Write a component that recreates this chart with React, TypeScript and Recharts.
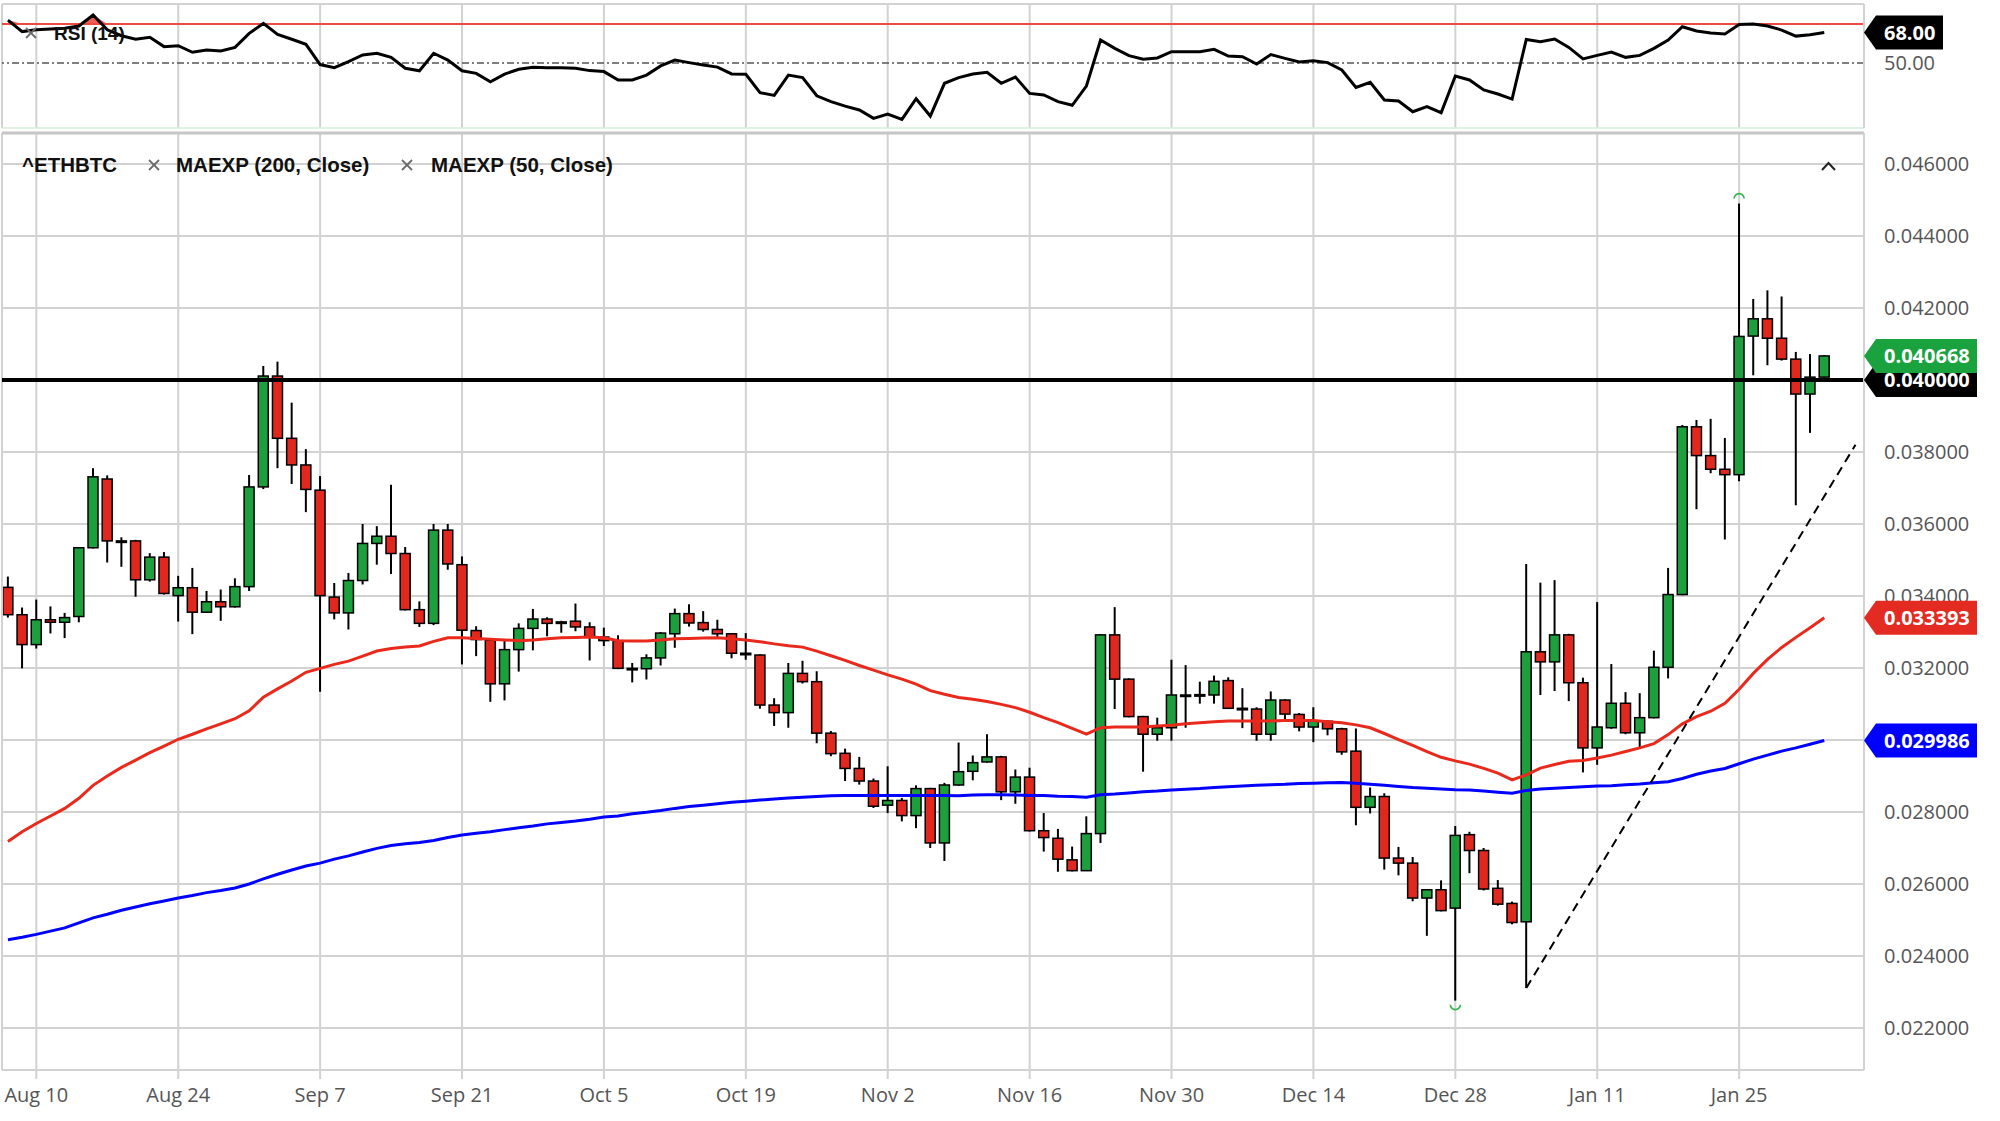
import {
  ComposedChart,
  Bar,
  Line,
  Area,
  XAxis,
  YAxis,
  CartesianGrid,
  ReferenceLine,
  ReferenceDot,
} from 'recharts';

// daily candles, Aug 6 -> Feb 2 (weekdays)
const open = [
  0.03424, 0.03348, 0.03265, 0.03334, 0.03327, 0.03343, 0.03534, 0.03725, 0.03553, 0.03553,
  0.03445, 0.03508, 0.03401, 0.03423, 0.03355, 0.03384, 0.0337, 0.03426, 0.03703, 0.04011,
  0.03838, 0.03764, 0.03694, 0.03397, 0.03353, 0.03443, 0.03546, 0.03566, 0.03518, 0.03362,
  0.03324, 0.03583, 0.03487, 0.03304, 0.03277, 0.03156, 0.03251, 0.0331, 0.03336, 0.03327,
  0.0333, 0.03314, 0.03286, 0.03276, 0.03199, 0.03198, 0.03228, 0.03295, 0.03351, 0.03326,
  0.03307, 0.03295, 0.03241, 0.03236, 0.03097, 0.03076, 0.03185, 0.03162, 0.03019, 0.02963,
  0.02921, 0.02886, 0.02819, 0.02832, 0.0279, 0.02865, 0.02714, 0.02875, 0.02913, 0.02939,
  0.02953, 0.02856, 0.02897, 0.02748, 0.02727, 0.02667, 0.02637, 0.0274, 0.03292, 0.03169,
  0.03065, 0.03016, 0.03034, 0.03125, 0.03124, 0.03125, 0.03165, 0.03088, 0.03086, 0.03016,
  0.03111, 0.03071, 0.03036, 0.03052, 0.03031, 0.02969, 0.02813, 0.02843, 0.02672, 0.02658,
  0.02561, 0.02584, 0.02533, 0.02737, 0.02693, 0.02588, 0.02546, 0.02495, 0.03245, 0.03217,
  0.03292, 0.03159, 0.02978, 0.03034, 0.03102, 0.0302, 0.03062, 0.03202, 0.03404, 0.0387,
  0.0379, 0.03752, 0.03737, 0.04122, 0.0417, 0.04116, 0.04058, 0.03961, 0.04008,
];
const high = [
  0.03454, 0.03368, 0.0339, 0.03371, 0.03353, 0.03536, 0.03755, 0.03735, 0.03563, 0.03556,
  0.03519, 0.03522, 0.03456, 0.03478, 0.03414, 0.03418, 0.03449, 0.03736, 0.04039, 0.04051,
  0.03937, 0.03808, 0.03733, 0.03436, 0.03464, 0.036, 0.03594, 0.03709, 0.03536, 0.03385,
  0.036, 0.036, 0.0351, 0.03316, 0.03279, 0.03277, 0.03324, 0.03364, 0.03341, 0.03331,
  0.03379, 0.03327, 0.03312, 0.03291, 0.03214, 0.03238, 0.033, 0.03365, 0.03377, 0.03358,
  0.03334, 0.03297, 0.03297, 0.03238, 0.03116, 0.03214, 0.0322, 0.03191, 0.03025, 0.02976,
  0.02953, 0.02893, 0.02927, 0.02839, 0.02874, 0.02867, 0.02881, 0.02993, 0.02957, 0.03016,
  0.02956, 0.02918, 0.02923, 0.02797, 0.02753, 0.02704, 0.02788, 0.03294, 0.03369, 0.03171,
  0.03067, 0.03062, 0.03223, 0.03208, 0.03162, 0.03179, 0.03174, 0.03144, 0.03091, 0.03135,
  0.03113, 0.03075, 0.03091, 0.03054, 0.03034, 0.03032, 0.02868, 0.02852, 0.02703, 0.02675,
  0.02586, 0.0261, 0.02761, 0.02745, 0.027, 0.02611, 0.02551, 0.03489, 0.03437, 0.03444,
  0.03295, 0.03173, 0.03383, 0.03211, 0.03133, 0.0313, 0.03248, 0.03478, 0.03875, 0.03889,
  0.03892, 0.03839, 0.0449, 0.04225, 0.04249, 0.04232, 0.04078, 0.04072, 0.04069,
];
const low = [
  0.0334, 0.03199, 0.03254, 0.03296, 0.03283, 0.03327, 0.03532, 0.03493, 0.03481, 0.03398,
  0.0344, 0.03404, 0.03329, 0.03294, 0.03353, 0.03331, 0.03368, 0.03414, 0.03697, 0.03755,
  0.03711, 0.03633, 0.03134, 0.03335, 0.03307, 0.03432, 0.03487, 0.03461, 0.0336, 0.03314,
  0.03319, 0.03473, 0.0321, 0.03233, 0.03106, 0.0311, 0.0319, 0.03249, 0.03288, 0.03298,
  0.03302, 0.03221, 0.03261, 0.03197, 0.0316, 0.03168, 0.03207, 0.03256, 0.03315, 0.03301,
  0.03281, 0.03227, 0.03223, 0.03087, 0.03039, 0.03034, 0.03157, 0.02991, 0.02955, 0.02886,
  0.02876, 0.02811, 0.02797, 0.02774, 0.02755, 0.027, 0.02664, 0.02873, 0.02888, 0.02937,
  0.02833, 0.02823, 0.02746, 0.0269, 0.02634, 0.02635, 0.02636, 0.02714, 0.03086, 0.03063,
  0.02912, 0.02998, 0.02998, 0.03034, 0.03101, 0.03101, 0.03086, 0.03033, 0.02998, 0.02998,
  0.03052, 0.03024, 0.02994, 0.03013, 0.02959, 0.02763, 0.02796, 0.0264, 0.02624, 0.02552,
  0.02456, 0.02524, 0.02276, 0.0263, 0.02582, 0.0254, 0.02488, 0.02311, 0.03125, 0.03136,
  0.03108, 0.0291, 0.02931, 0.03031, 0.03016, 0.02979, 0.0306, 0.03171, 0.03402, 0.03641,
  0.03741, 0.03557, 0.03719, 0.04013, 0.04041, 0.04054, 0.03652, 0.03853, 0.04006,
];
const close = [
  0.03348, 0.03265, 0.03334, 0.03327, 0.0334, 0.03534, 0.03731, 0.03553, 0.0355, 0.03445,
  0.03508, 0.03407, 0.03423, 0.03355, 0.03384, 0.0337, 0.03426, 0.03703, 0.04011, 0.03838,
  0.03764, 0.03696, 0.03401, 0.03353, 0.03443, 0.03546, 0.03566, 0.03518, 0.03362, 0.03324,
  0.03583, 0.03489, 0.03305, 0.03279, 0.03156, 0.03251, 0.0331, 0.03336, 0.03324, 0.03328,
  0.03314, 0.03286, 0.03276, 0.03199, 0.03198, 0.03228, 0.03297, 0.03351, 0.03325, 0.03307,
  0.03295, 0.03241, 0.03237, 0.03097, 0.03076, 0.03185, 0.03162, 0.03019, 0.02962, 0.02921,
  0.02886, 0.02816, 0.02832, 0.0279, 0.02865, 0.02714, 0.02875, 0.02912, 0.02937, 0.02953,
  0.02856, 0.02897, 0.02748, 0.02729, 0.02669, 0.02637, 0.0274, 0.03292, 0.03169, 0.03065,
  0.03016, 0.03034, 0.03125, 0.03123, 0.03126, 0.03163, 0.03088, 0.03086, 0.03016, 0.03111,
  0.03072, 0.03036, 0.03052, 0.03031, 0.02967, 0.02813, 0.02843, 0.02672, 0.02658, 0.02561,
  0.02584, 0.02526, 0.02735, 0.02693, 0.02586, 0.02544, 0.02493, 0.03245, 0.03217, 0.03292,
  0.03159, 0.02978, 0.03036, 0.03102, 0.0302, 0.03062, 0.03202, 0.03404, 0.0387, 0.0379,
  0.03752, 0.03737, 0.04121, 0.0417, 0.04116, 0.04058, 0.03961, 0.04008, 0.040668,
];

const ma50 = [
  0.02718, 0.02745, 0.02768, 0.02789, 0.0281, 0.02838, 0.02874, 0.029, 0.02924, 0.02944,
  0.02965, 0.02983, 0.03002, 0.03016, 0.03031, 0.03045, 0.03059, 0.03081, 0.03119, 0.03142,
  0.03164, 0.03188, 0.03199, 0.0321, 0.03219, 0.03233, 0.03247, 0.03254, 0.03258, 0.03261,
  0.03274, 0.03284, 0.03284, 0.03282, 0.0328, 0.03278, 0.03276, 0.03278, 0.03281, 0.03284,
  0.03285, 0.03286, 0.03284, 0.03276, 0.03275, 0.03275, 0.03278, 0.03281, 0.03282, 0.03283,
  0.03284, 0.03281, 0.03278, 0.03273, 0.03267, 0.03262, 0.03258, 0.03247, 0.03234, 0.03221,
  0.03207, 0.03194, 0.03181, 0.03169, 0.03155, 0.03137, 0.03127, 0.03118, 0.03113, 0.03107,
  0.03099, 0.0309, 0.03077, 0.03062, 0.03048, 0.03032, 0.03016, 0.03034, 0.03036, 0.03036,
  0.03036, 0.03039, 0.03041, 0.03045, 0.03048, 0.03051, 0.03053, 0.03053, 0.03053, 0.03053,
  0.03054, 0.03054, 0.03054, 0.03051, 0.03048, 0.03042, 0.03034, 0.03018, 0.03001, 0.02985,
  0.02968, 0.02952, 0.02942, 0.02933, 0.02921, 0.02908, 0.02889, 0.02903, 0.02922, 0.02932,
  0.02941, 0.02943, 0.0295, 0.02958, 0.02968, 0.02978, 0.0299, 0.03015, 0.03045, 0.03065,
  0.0308, 0.03102, 0.03141, 0.03185, 0.03224, 0.03257, 0.03285, 0.03312, 0.033393,
];
const ma200 = [
  0.02445, 0.02452, 0.0246, 0.02469, 0.02478, 0.02492, 0.02506, 0.02516, 0.02527, 0.02536,
  0.02545, 0.02553, 0.02561, 0.02568, 0.02576, 0.02582, 0.02589, 0.026, 0.02614, 0.02627,
  0.02639, 0.0265, 0.02658, 0.02669, 0.02678, 0.02689, 0.02699, 0.02707, 0.02712, 0.02715,
  0.02721, 0.02729, 0.02736, 0.02741, 0.02745, 0.02751, 0.02756, 0.02761, 0.02767, 0.02771,
  0.02775, 0.0278, 0.02786, 0.02789, 0.02795, 0.02799, 0.02804, 0.0281, 0.02815, 0.02819,
  0.02823, 0.02827, 0.0283, 0.02833, 0.02836, 0.02839, 0.02841, 0.02843, 0.02845, 0.02846,
  0.02846, 0.02846, 0.02846, 0.02846, 0.02846, 0.02846, 0.02846, 0.02845, 0.02847, 0.02848,
  0.02848, 0.02847, 0.02846, 0.02846, 0.02844, 0.02843, 0.02841, 0.02848, 0.0285, 0.02853,
  0.02856, 0.02858, 0.02861, 0.02863, 0.02865, 0.02868, 0.0287, 0.02872, 0.02874, 0.02876,
  0.02877, 0.02879, 0.0288, 0.02881, 0.02882, 0.0288, 0.02877, 0.02874, 0.02871, 0.02868,
  0.02866, 0.02864, 0.02862, 0.02861, 0.02858, 0.02855, 0.02852, 0.0286, 0.02864, 0.02866,
  0.02868, 0.0287, 0.02872, 0.02873, 0.02876, 0.02878, 0.02881, 0.02884, 0.02893, 0.02905,
  0.02914, 0.02921, 0.02934, 0.02947, 0.02958, 0.02969, 0.02978, 0.02988, 0.029986,
];
const rsi = [
  72.0, 66.1, 67.0, 67.5, 67.8, 69.0, 74.6, 67.0, 64.0, 62.2,
  63.2, 58.4, 58.9, 55.5, 56.7, 56.2, 58.0, 65.2, 70.3, 64.7,
  62.2, 59.6, 49.2, 47.6, 50.7, 54.1, 55.0, 52.9, 47.3, 46.0,
  55.0, 51.5, 46.0, 44.7, 40.4, 44.3, 46.8, 47.8, 47.6, 47.6,
  47.3, 46.1, 45.6, 41.3, 41.3, 43.8, 48.5, 51.5, 50.2, 49.0,
  47.9, 44.4, 44.2, 34.8, 33.4, 43.8, 42.5, 33.2, 30.2, 27.9,
  25.9, 21.6, 23.8, 21.1, 31.7, 22.8, 39.6, 42.5, 44.4, 45.2,
  39.6, 42.8, 34.4, 33.6, 30.2, 28.3, 38.2, 61.8, 57.5, 53.8,
  51.9, 52.6, 55.8, 55.8, 55.8, 57.0, 53.6, 53.2, 49.5, 54.3,
  52.4, 50.5, 51.2, 50.2, 46.4, 37.5, 40.1, 31.0, 30.5, 25.0,
  27.6, 24.5, 43.3, 41.3, 36.2, 34.1, 31.5, 62.1, 60.9, 62.3,
  58.0, 52.1, 53.9, 55.6, 52.9, 53.9, 57.5, 61.8, 68.6, 66.4,
  65.4, 64.9, 69.7, 70.0, 69.0, 66.9, 63.8, 64.5, 65.6,
];

const xTickIndex = [2, 12, 22, 32, 42, 52, 62, 72, 82, 92, 102, 112, 122];
const xTickLabels = [
  'Aug 10', 'Aug 24', 'Sep 7', 'Sep 21', 'Oct 5', 'Oct 19', 'Nov 2',
  'Nov 16', 'Nov 30', 'Dec 14', 'Dec 28', 'Jan 11', 'Jan 25',
];
const priceTicks = [
  0.022, 0.024, 0.026, 0.028, 0.03, 0.032, 0.034, 0.036, 0.038, 0.04, 0.042, 0.044, 0.046,
];
const rsiTicks = [50];
const rsiOverbought = 70;
const rsiTagText = '68.00';
const resistance = 0.04;
const trendLine = [
  { i: 107, p: 0.02311 },
  { i: 130.2, p: 0.0382 },
];
const extremes = [
  { i: 122, kind: 'high' },
  { i: 102, kind: 'low' },
];

const X_DOMAIN = [-0.42, 130.8];
const PRICE_DOMAIN = [0.020833, 0.046861];
const RSI_DOMAIN = [16.67, 80.26];

const GRID = '#d2d2d2';
const UP = '#1c9f3c';
const DOWN = '#e1281e';
const tickStyle = { fill: '#555', fontSize: 20, fontFamily: 'Open Sans' };

const rows = open.map((o, i) => ({
  i,
  o,
  h: high[i],
  l: low[i],
  c: close[i],
  ma50: ma50[i],
  ma200: ma200[i],
  rsi: rsi[i],
}));

const last = (a: number[]) => a[a.length - 1];

function Candle(props: any) {
  const { x, y, width, height, payload } = props;
  if (!payload || x == null || y == null) return null;
  const { o, h, l, c } = payload;
  const top = height >= 0 ? y : y + height;
  const hh = Math.abs(height);
  const cx = x + width / 2;
  const span = h - l || 1e-9;
  const py = (v: number) => top + ((h - v) / span) * hh;
  const bTop = py(Math.max(o, c));
  const bBot = py(Math.min(o, c));
  const bw = 10;
  return (
    <g>
      <line x1={cx} x2={cx} y1={top} y2={top + hh} stroke="#000" strokeWidth={2} />
      <rect
        x={cx - bw / 2}
        y={bTop}
        width={bw}
        height={Math.max(bBot - bTop, 1.5)}
        fill={c >= o ? UP : DOWN}
        stroke="#000"
        strokeWidth={1.5}
      />
    </g>
  );
}

const tag = (text: string, color: string, w: number) => (p: any) => (
  <g>
    <path
      d={`M${p.cx},${p.cy} L${p.cx + 12},${p.cy - 17} H${p.cx + w} V${p.cy + 17} H${p.cx + 12} Z`}
      fill={color}
    />
    <text
      x={p.cx + 20}
      y={p.cy}
      dy="0.36em"
      fill="#fff"
      fontSize={20}
      fontWeight={700}
      fontFamily="Open Sans"
    >
      {text}
    </text>
  </g>
);

const marker = (kind: string) => (p: any) => {
  const d =
    kind === 'high'
      ? `M${p.cx - 5},${p.cy - 5} A5 5 0 0 1 ${p.cx + 5},${p.cy - 5}`
      : `M${p.cx - 5},${p.cy + 4} A5 5 0 0 0 ${p.cx + 5},${p.cy + 4}`;
  return <path d={d} fill="none" stroke="#2db34a" strokeWidth={1.6} />;
};

const priceTags = [
  { value: resistance, color: '#000' },
  { value: last(ma50), color: '#e32b22' },
  { value: last(ma200), color: '#0000ff' },
  { value: last(close), color: '#1aa23f' },
];

function Cross({ x, y }: { x: number; y: number }) {
  return (
    <g stroke="#6b6b6b" strokeWidth={1.8}>
      <line x1={x - 5} y1={y - 5} x2={x + 5} y2={y + 5} />
      <line x1={x - 5} y1={y + 5} x2={x + 5} y2={y - 5} />
    </g>
  );
}

export default function App() {
  return (
    <div
      style={{
        position: 'absolute',
        left: 0,
        top: 0,
        width: 2000,
        height: 1121,
        background: '#fff',
        overflow: 'hidden',
      }}
    >
      {/* RSI panel */}
      <div style={{ position: 'absolute', left: 0, top: 0 }}>
        <ComposedChart
          width={2000}
          height={131}
          data={rows}
          margin={{ top: 4, right: 0, bottom: 3, left: 2 }}
        >
          <CartesianGrid horizontal={false} stroke={GRID} strokeWidth={2} />
          <XAxis
            type="number"
            dataKey="i"
            domain={X_DOMAIN}
            allowDataOverflow
            ticks={xTickIndex}
            interval={0}
            hide
          />
          <YAxis
            orientation="right"
            width={136}
            domain={RSI_DOMAIN}
            allowDataOverflow
            ticks={rsiTicks}
            tickFormatter={(v: number) => v.toFixed(2)}
            tick={tickStyle}
            tickLine={false}
            tickSize={0}
            tickMargin={20}
            axisLine={{ stroke: GRID, strokeWidth: 2 }}
          />
          <ReferenceLine x={X_DOMAIN[0]} stroke={GRID} strokeWidth={2} />
          <ReferenceLine y={RSI_DOMAIN[1]} stroke={GRID} strokeWidth={2} />
          <ReferenceLine y={RSI_DOMAIN[0]} stroke="#d6eedb" strokeWidth={1.5} />
          <Area
            dataKey={(d: any) => [rsiOverbought, Math.max(rsiOverbought, d.rsi)]}
            stroke="none"
            fill="#ef4136"
            fillOpacity={0.85}
            isAnimationActive={false}
          />
          <ReferenceLine y={rsiOverbought} stroke="#ef4a42" strokeWidth={2} />
          <ReferenceLine y={50} stroke="#555" strokeWidth={1.5} strokeDasharray="7 3 2 3" />
          <Line
            dataKey="rsi"
            type="linear"
            stroke="#000"
            strokeWidth={3}
            dot={false}
            isAnimationActive={false}
          />
          <ReferenceDot
            x={X_DOMAIN[1]}
            y={last(rsi)}
            ifOverflow="visible"
            shape={tag(rsiTagText, '#000', 79)}
          />
        </ComposedChart>
      </div>

      {/* price panel */}
      <div style={{ position: 'absolute', left: 0, top: 131 }}>
        <ComposedChart
          width={2000}
          height={990}
          data={rows}
          margin={{ top: 2, right: 0, bottom: 0, left: 2 }}
        >
          <CartesianGrid stroke={GRID} strokeWidth={2} />
          <XAxis
            type="number"
            dataKey="i"
            domain={X_DOMAIN}
            allowDataOverflow
            ticks={xTickIndex}
            interval={0}
            tickFormatter={(v: number) => xTickLabels[xTickIndex.indexOf(v)]}
            height={51}
            tickSize={9}
            tickMargin={9}
            tick={tickStyle}
            tickLine={{ stroke: GRID, strokeWidth: 2 }}
            axisLine={{ stroke: GRID, strokeWidth: 2 }}
          />
          <YAxis
            orientation="right"
            width={136}
            domain={PRICE_DOMAIN}
            allowDataOverflow
            ticks={priceTicks}
            tickFormatter={(v: number) => v.toFixed(6)}
            tick={tickStyle}
            tickLine={false}
            tickSize={0}
            tickMargin={20}
            axisLine={{ stroke: GRID, strokeWidth: 2 }}
          />
          <ReferenceLine x={X_DOMAIN[0]} stroke={GRID} strokeWidth={2} />
          <ReferenceLine y={PRICE_DOMAIN[1]} stroke="#c6c6c6" strokeWidth={3} />
          <Line
            dataKey="ma200"
            type="linear"
            stroke="#0000ff"
            strokeWidth={3}
            dot={false}
            isAnimationActive={false}
          />
          <Line
            dataKey="ma50"
            type="linear"
            stroke="#e8291c"
            strokeWidth={3}
            dot={false}
            isAnimationActive={false}
          />
          <Bar
            dataKey={(d: any) => [d.l, d.h]}
            barSize={10}
            shape={(p: any) => <Candle {...p} />}
            isAnimationActive={false}
          />
          <ReferenceLine y={resistance} stroke="#000" strokeWidth={4} />
          <ReferenceLine
            segment={trendLine.map((s) => ({ x: s.i, y: s.p }))}
            stroke="#000"
            strokeWidth={2}
            strokeDasharray="9 6"
          />
          {extremes.map((m) => (
            <ReferenceDot
              key={m.i}
              x={m.i}
              y={m.kind === 'high' ? high[m.i] : low[m.i]}
              ifOverflow="visible"
              shape={marker(m.kind)}
            />
          ))}
        </ComposedChart>
      </div>

      {/* price tags, drawn over the axis labels */}
      <div style={{ position: 'absolute', left: 0, top: 131 }}>
        <ComposedChart
          width={2000}
          height={990}
          data={rows}
          margin={{ top: 2, right: 136, bottom: 51, left: 2 }}
        >
          <XAxis type="number" dataKey="i" domain={X_DOMAIN} allowDataOverflow hide />
          <YAxis domain={PRICE_DOMAIN} allowDataOverflow hide />
          {priceTags.map((t) => (
            <ReferenceDot
              key={t.color}
              x={X_DOMAIN[1]}
              y={t.value}
              ifOverflow="visible"
              shape={tag(t.value.toFixed(6), t.color, 113)}
            />
          ))}
        </ComposedChart>
      </div>

      {/* legends */}
      <svg
        width={2000}
        height={1121}
        style={{ position: 'absolute', left: 0, top: 0, pointerEvents: 'none' }}
      >
        <g fontFamily="Liberation Sans, Arial, sans-serif" fontWeight={700} fill="#111">
          <Cross x={31} y={33} />
          <text x={54} y={40} fontSize={19}>RSI (14)</text>
          <text x={22} y={172} fontSize={20.5}>^ETHBTC</text>
          <Cross x={154} y={165} />
          <text x={176} y={172} fontSize={20.5}>MAEXP (200, Close)</text>
          <Cross x={407} y={165} />
          <text x={431} y={172} fontSize={20.5}>MAEXP (50, Close)</text>
        </g>
        <polyline
          points="1822,170 1828.5,163 1835,170"
          fill="none"
          stroke="#222"
          strokeWidth={2}
        />
      </svg>
    </div>
  );
}
